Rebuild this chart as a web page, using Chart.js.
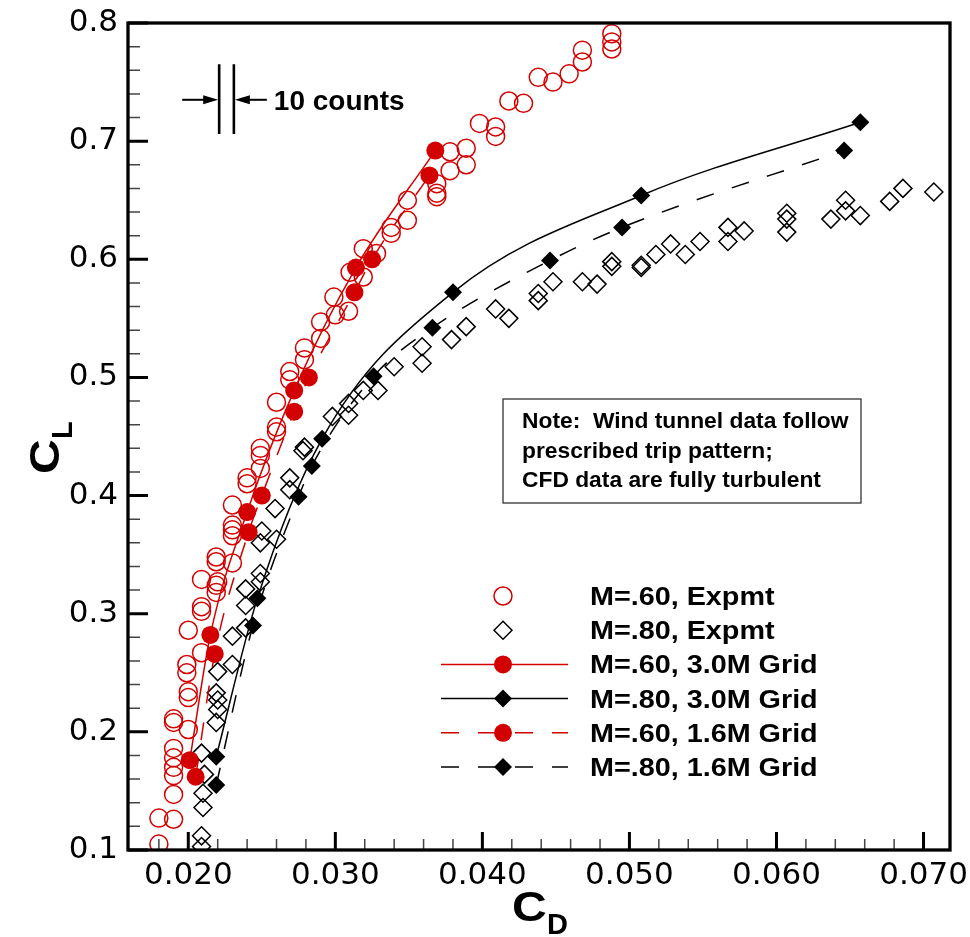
<!DOCTYPE html>
<html>
<head>
<meta charset="utf-8">
<style>
  html, body { margin: 0; padding: 0; background: #fff; }
  #wrap { width: 970px; height: 937px; position: relative; }
</style>
<script src="https://cdn.jsdelivr.net/npm/chart.js@4.4.0/dist/chart.umd.min.js"></script>
</head>
<body>
<div id="wrap"><canvas id="chart"></canvas></div>
<script>
// wind tunnel data, [CD, CL]
const m60Expmt = [
  [0.0180, 0.105], [0.0180, 0.127], [0.0190, 0.126], [0.0190, 0.147], [0.0190, 0.163],
  [0.0190, 0.170], [0.0190, 0.178], [0.0190, 0.186], [0.0190, 0.208], [0.0190, 0.211],
  [0.0200, 0.202], [0.0200, 0.229], [0.0200, 0.234], [0.0199, 0.250], [0.0199, 0.257],
  [0.0200, 0.286], [0.0209, 0.267], [0.0209, 0.302], [0.0209, 0.306], [0.0209, 0.329],
  [0.0219, 0.318], [0.0219, 0.324], [0.0220, 0.327], [0.0219, 0.344], [0.0219, 0.348],
  [0.0230, 0.343], [0.0230, 0.366], [0.0230, 0.371], [0.0230, 0.375], [0.0230, 0.392],
  [0.0240, 0.410], [0.0240, 0.415], [0.0249, 0.423], [0.0249, 0.434], [0.0249, 0.440],
  [0.0260, 0.454], [0.0260, 0.458], [0.0260, 0.479], [0.0269, 0.498], [0.0269, 0.505],
  [0.0279, 0.515], [0.0279, 0.525], [0.0290, 0.533], [0.0290, 0.547], [0.0300, 0.553],
  [0.0299, 0.568], [0.0309, 0.556], [0.0310, 0.589], [0.0319, 0.585], [0.0319, 0.609],
  [0.0328, 0.605], [0.0338, 0.622], [0.0338, 0.627], [0.0349, 0.633], [0.0349, 0.650],
  [0.0369, 0.653], [0.0369, 0.656], [0.0369, 0.664], [0.0378, 0.675], [0.0378, 0.691],
  [0.0389, 0.680], [0.0389, 0.694], [0.0398, 0.715], [0.0409, 0.704], [0.0409, 0.712],
  [0.0418, 0.734], [0.0428, 0.732], [0.0438, 0.754], [0.0448, 0.750], [0.0459, 0.757],
  [0.0468, 0.767], [0.0468, 0.777], [0.0488, 0.778], [0.0488, 0.784], [0.0488, 0.791]
]
const m80Expmt = [
  [0.0209, 0.103], [0.0209, 0.112], [0.0210, 0.136], [0.0210, 0.148], [0.0211, 0.164],
  [0.0209, 0.182], [0.0219, 0.208], [0.0220, 0.219], [0.0220, 0.227], [0.0219, 0.233],
  [0.0220, 0.251], [0.0230, 0.257], [0.0230, 0.281], [0.0239, 0.288], [0.0239, 0.307],
  [0.0239, 0.321], [0.0249, 0.327], [0.0249, 0.334], [0.0249, 0.360], [0.0250, 0.370],
  [0.0260, 0.363], [0.0259, 0.389], [0.0269, 0.405], [0.0269, 0.415], [0.0278, 0.438],
  [0.0279, 0.441], [0.0298, 0.467], [0.0309, 0.468], [0.0309, 0.478], [0.0319, 0.489],
  [0.0329, 0.489], [0.0340, 0.509], [0.0359, 0.512], [0.0359, 0.526], [0.0379, 0.532],
  [0.0389, 0.543], [0.0409, 0.558], [0.0418, 0.550], [0.0438, 0.565], [0.0438, 0.571],
  [0.0448, 0.581], [0.0468, 0.581], [0.0478, 0.579], [0.0488, 0.594], [0.0488, 0.598],
  [0.0508, 0.593], [0.0508, 0.595], [0.0518, 0.604], [0.0528, 0.613], [0.0538, 0.604],
  [0.0548, 0.615], [0.0567, 0.615], [0.0567, 0.627], [0.0578, 0.624], [0.0607, 0.623],
  [0.0607, 0.634], [0.0607, 0.639], [0.0637, 0.634], [0.0647, 0.641], [0.0647, 0.650],
  [0.0657, 0.637], [0.0677, 0.649], [0.0686, 0.660], [0.0707, 0.657]
]

// CFD, fully turbulent
const m60Grid30 = [[0.0201, 0.176], [0.0215, 0.282], [0.0240, 0.386], [0.0272, 0.489], [0.0314, 0.593], [0.0368, 0.692]]
const m80Grid30 = [[0.0219, 0.179], [0.0247, 0.313], [0.0291, 0.448], [0.0380, 0.572], [0.0508, 0.654], [0.0657, 0.716]]
const m60Grid16 = [
  [0.0205, 0.162], [0.0218, 0.266], [0.0241, 0.369], [0.0250, 0.400], [0.0272, 0.471],
  [0.0282, 0.500], [0.0313, 0.572], [0.0325, 0.600], [0.0364, 0.671]
]
const m80Grid16 = [
  [0.0219, 0.155], [0.0244, 0.290], [0.0275, 0.399], [0.0284, 0.425], [0.0326, 0.501],
  [0.0366, 0.542], [0.0446, 0.599], [0.0495, 0.627], [0.0646, 0.692]
]

const xMajorTicks = [0.02, 0.03, 0.04, 0.05, 0.06, 0.07]
const xTickLabels = ['0.020', '0.030', '0.040', '0.050', '0.060', '0.070']
const xMinorTicks = [0.018, 0.022, 0.024, 0.026, 0.028, 0.032, 0.034, 0.036, 0.038,
  0.042, 0.044, 0.046, 0.048, 0.052, 0.054, 0.056, 0.058, 0.062, 0.064, 0.066, 0.068]
const yMajorTicks = [0.1, 0.2, 0.3, 0.4, 0.5, 0.6, 0.7, 0.8]
const yTickLabels = ['0.1', '0.2', '0.3', '0.4', '0.5', '0.6', '0.7', '0.8']
const yMinorTicks = [0.12, 0.14, 0.16, 0.18, 0.22, 0.24, 0.26, 0.28, 0.32, 0.34, 0.36, 0.38,
  0.42, 0.44, 0.46, 0.48, 0.52, 0.54, 0.56, 0.58, 0.62, 0.64, 0.66, 0.68, 0.72, 0.74, 0.76, 0.78]

// 10 drag counts marker
const countsCD = [0.0221, 0.0231]
const countsCL = [0.706, 0.765]
const countsArrowCL = 0.735

const noteLines = ['Note:  Wind tunnel data follow', 'prescribed trip pattern;', 'CFD data are fully turbulent']

const RED = '#d20000'
const toPts = (arr) => arr.map(([x, y]) => ({ x, y }))

function drawStretched(ctx, str, x, y, font, sx) {
  ctx.save()
  ctx.translate(x, y)
  ctx.scale(sx, 1)
  ctx.font = font
  ctx.textAlign = 'left'
  ctx.textBaseline = 'alphabetic'
  ctx.fillText(str, 0, 0)
  ctx.restore()
}

function arrow(ctx, x0, x1, y) {
  const dir = Math.sign(x1 - x0)
  ctx.beginPath()
  ctx.moveTo(x0, y)
  ctx.lineTo(x1 - dir * 14, y)
  ctx.stroke()
  ctx.beginPath()
  ctx.moveTo(x1, y)
  ctx.lineTo(x1 - dir * 15, y - 4.5)
  ctx.lineTo(x1 - dir * 15, y + 4.5)
  ctx.closePath()
  ctx.fill()
}

const decor = {
  id: 'decor',
  afterDraw(chart) {
    const { ctx, chartArea: a } = chart
    const x = chart.scales.x
    const y = chart.scales.y
    ctx.save()

    // minor ticks, inside
    ctx.strokeStyle = '#444'
    ctx.lineWidth = 1.5
    ctx.beginPath()
    xMinorTicks.forEach((v) => {
      const px = x.getPixelForValue(v)
      ctx.moveTo(px, a.bottom)
      ctx.lineTo(px, a.bottom - 11)
    })
    yMinorTicks.forEach((v) => {
      const py = y.getPixelForValue(v)
      ctx.moveTo(a.left, py)
      ctx.lineTo(a.left + 12, py)
    })
    ctx.stroke()

    // major ticks
    ctx.strokeStyle = '#000'
    ctx.lineWidth = 3
    ctx.beginPath()
    xMajorTicks.forEach((v) => {
      const px = x.getPixelForValue(v)
      ctx.moveTo(px, a.bottom)
      ctx.lineTo(px, a.bottom - 18)
    })
    yMajorTicks.forEach((v) => {
      const py = y.getPixelForValue(v)
      ctx.moveTo(a.left, py)
      ctx.lineTo(a.left + 20, py)
    })
    ctx.stroke()

    // frame
    ctx.lineWidth = 3.3
    ctx.strokeRect(a.left, a.top, a.right - a.left, a.bottom - a.top)

    // axis titles
    ctx.fillStyle = '#000'
    drawStretched(ctx, 'C', 512, 921, 'bold 43px "Liberation Sans"', 1.12)
    drawStretched(ctx, 'D', 547, 934, 'bold 29px "Liberation Sans"', 1.0)
    ctx.save()
    ctx.translate(59, 474)
    ctx.rotate(-Math.PI / 2)
    drawStretched(ctx, 'C', 0, 0, 'bold 43px "Liberation Sans"', 1.12)
    drawStretched(ctx, 'L', 35, 13, 'bold 29px "Liberation Sans"', 1.0)
    ctx.restore()

    // 10 counts marker
    const b0 = x.getPixelForValue(countsCD[0])
    const b1 = x.getPixelForValue(countsCD[1])
    const t = y.getPixelForValue(countsCL[1])
    const b = y.getPixelForValue(countsCL[0])
    const ay = y.getPixelForValue(countsArrowCL)
    ctx.lineWidth = 2.6
    ctx.beginPath()
    ctx.moveTo(b0, t); ctx.lineTo(b0, b)
    ctx.moveTo(b1, t); ctx.lineTo(b1, b)
    ctx.stroke()
    ctx.lineWidth = 2
    arrow(ctx, b0 - 37, b0 - 1, ay)
    arrow(ctx, b1 + 33, b1 + 1, ay)
    drawStretched(ctx, '10 counts', b1 + 40, ay + 10.5, 'bold 28px "Liberation Sans"', 1.0)

    // note box
    ctx.strokeStyle = '#333'
    ctx.lineWidth = 1.3
    ctx.strokeRect(503, 399, 358, 104)
    noteLines.forEach((s, i) => {
      drawStretched(ctx, s, 522, 428 + i * 29.5, 'bold 22.8px "Liberation Sans"', 1.0)
    })

    // legend
    chart.data.datasets.forEach((ds, i) => {
      const ly = 596 + i * 34.2
      if (ds.showLine) {
        ctx.save()
        ctx.strokeStyle = ds.borderColor
        ctx.lineWidth = ds.borderWidth
        ctx.setLineDash(ds.borderDash || [])
        ctx.beginPath()
        ctx.moveTo(441, ly)
        ctx.lineTo(568, ly)
        ctx.stroke()
        ctx.restore()
      }
      ctx.save()
      ctx.fillStyle = ds.pointBackgroundColor
      ctx.strokeStyle = ds.pointBorderColor
      ctx.lineWidth = ds.pointBorderWidth
      Chart.helpers.drawPoint(ctx, {
        pointStyle: ds.pointStyle, radius: ds.pointRadius, rotation: 0, borderWidth: ds.pointBorderWidth
      }, 503, ly)
      ctx.restore()
      ctx.fillStyle = '#000'
      drawStretched(ctx, ds.label, 590, ly + 9, 'bold 25px "Liberation Sans"', 1.15)
    })
    ctx.restore()
  }
}

const dash = [18, 19]

new Chart(document.getElementById('chart'), {
  type: 'scatter',
  data: {
    datasets: [
      {
        label: 'M=.60, Expmt', data: toPts(m60Expmt), showLine: false, order: 2,
        pointStyle: 'circle', pointRadius: 9, pointBorderWidth: 1.5,
        pointBorderColor: RED, pointBackgroundColor: 'rgba(0,0,0,0)'
      },
      {
        label: 'M=.80, Expmt', data: toPts(m80Expmt), showLine: false, order: 2,
        pointStyle: 'rectRot', pointRadius: 9, pointBorderWidth: 1.5,
        pointBorderColor: '#000', pointBackgroundColor: 'rgba(0,0,0,0)'
      },
      {
        label: 'M=.60, 3.0M Grid', data: toPts(m60Grid30), showLine: true, order: 1,
        borderColor: RED, borderWidth: 1.5, cubicInterpolationMode: 'monotone',
        pointStyle: 'circle', pointRadius: 9, pointBorderWidth: 0,
        pointBorderColor: RED, pointBackgroundColor: RED
      },
      {
        label: 'M=.80, 3.0M Grid', data: toPts(m80Grid30), showLine: true, order: 1,
        borderColor: '#000', borderWidth: 1.5, cubicInterpolationMode: 'monotone',
        pointStyle: 'rectRot', pointRadius: 9, pointBorderWidth: 0,
        pointBorderColor: '#000', pointBackgroundColor: '#000'
      },
      {
        label: 'M=.60, 1.6M Grid', data: toPts(m60Grid16), showLine: true, order: 1,
        borderColor: RED, borderWidth: 1.5, borderDash: dash, cubicInterpolationMode: 'monotone',
        pointStyle: 'circle', pointRadius: 9, pointBorderWidth: 0,
        pointBorderColor: RED, pointBackgroundColor: RED
      },
      {
        label: 'M=.80, 1.6M Grid', data: toPts(m80Grid16), showLine: true, order: 1,
        borderColor: '#000', borderWidth: 1.5, borderDash: dash, cubicInterpolationMode: 'monotone',
        pointStyle: 'rectRot', pointRadius: 9, pointBorderWidth: 0,
        pointBorderColor: '#000', pointBackgroundColor: '#000'
      }
    ].map((ds) => ({ ...ds, clip: 0, fill: false }))
  },
  options: {
    responsive: true,
    maintainAspectRatio: false,
    animation: false,
    layout: { padding: { top: 23, right: 20, left: 0, bottom: 0 } },
    plugins: { legend: { display: false }, tooltip: { enabled: false } },
    scales: {
      x: {
        type: 'linear',
        min: 0.0159,
        max: 0.0718,
        afterBuildTicks: (s) => { s.ticks = xMajorTicks.map((v) => ({ value: v })) },
        afterFit: (s) => { s.height = 87; s.paddingLeft = 0; s.paddingRight = 0 },
        ticks: {
          callback: (v, i) => xTickLabels[i],
          font: { family: 'DejaVu Sans', size: 31 },
          color: '#000', padding: 7, maxRotation: 0, autoSkip: false
        },
        grid: { display: false, drawTicks: false },
        border: { display: false }
      },
      y: {
        type: 'linear',
        min: 0.1,
        max: 0.8,
        afterBuildTicks: (s) => { s.ticks = yMajorTicks.map((v) => ({ value: v })) },
        afterFit: (s) => { s.width = 128; s.paddingTop = 0; s.paddingBottom = 0 },
        ticks: {
          callback: (v, i) => yTickLabels[i],
          font: { family: 'DejaVu Sans', size: 31 },
          color: '#000', padding: 10, autoSkip: false
        },
        grid: { display: false, drawTicks: false },
        border: { display: false }
      }
    }
  },
  plugins: [decor]
})
</script>
</body>
</html>
